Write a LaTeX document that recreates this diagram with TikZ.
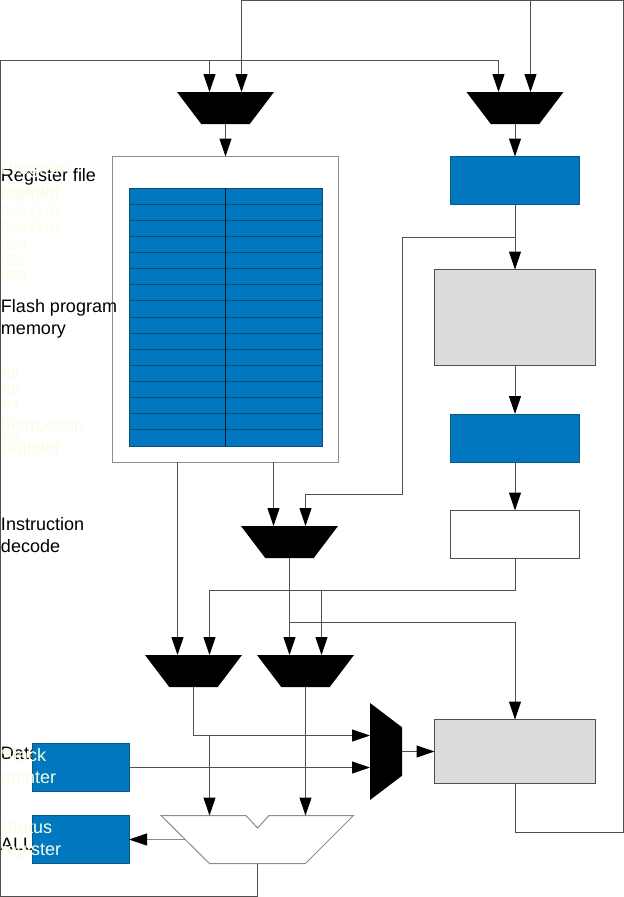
\documentclass[tikz,border=0pt]{standalone}
\usepackage{fontspec}
\setmainfont{Liberation Sans}
\usetikzlibrary{shapes.geometric,arrows.meta}
\definecolor{chipblue}{HTML}{0077BE}
\definecolor{rowline}{HTML}{0F4C72}
\definecolor{unitgray}{HTML}{DCDCDC}
\definecolor{wire}{HTML}{505050}
\definecolor{boxline}{HTML}{8C8C8C}
\definecolor{ghost}{HTML}{F5FFE4}
\tikzset{
  x=0.75pt,y=-0.75pt,
  wirepath/.style={draw=wire,line width=0.75pt},
  arrowed/.style={wirepath,-{Triangle[length=13.5pt,width=9pt,color=black]}},
  mux/.style={trapezium,trapezium stretches=true,trapezium left angle=63.43,trapezium right angle=63.43,shape border rotate=180,fill=black,draw=none,inner sep=0.5pt,outer sep=0pt,minimum width=72.75pt,minimum height=24pt},
  muxside/.style={trapezium,trapezium stretches=true,trapezium left angle=63.43,trapezium right angle=63.43,shape border rotate=270,fill=black,draw=none,inner sep=0.5pt,outer sep=0pt,minimum width=72.75pt,minimum height=24pt},
  blk/.style={rectangle,anchor=north west,inner sep=0pt,outer sep=0pt},
  bluebox/.style={blk,fill=chipblue,draw=rowline!70!chipblue,line width=0.75pt},
  graybox/.style={blk,fill=unitgray,draw=wire,line width=0.75pt},
  whitebox/.style={blk,fill=white,draw=boxline,line width=0.75pt},
  blacklabel/.style={anchor=west,inner sep=0pt,outer sep=0pt,align=left,text=black,font=\fontsize{13.5pt}{16.5pt}\selectfont},
  ghostlabel/.style={anchor=west,inner sep=0pt,outer sep=0pt,align=left,text=ghost,font=\fontsize{13.5pt}{16.5pt}\selectfont},
  ghostsmall/.style={anchor=west,inner sep=0pt,outer sep=0pt,text=ghost,font=\fontsize{10.5pt}{12pt}\selectfont},
}
\begin{document}
\begin{tikzpicture}
\useasboundingbox (0,0) rectangle (624,897);
% register file frame
\node[whitebox,minimum width=169.5pt,minimum height=229.5pt] (regfile) at (112.5,156.5) {};
% black labels (lie under the blue boxes)
\node[blacklabel] (lblreg) at (1,176.5) {Register file};
\node[blacklabel] (lblflash) at (1,318.5) {Flash program\\memory};
\node[blacklabel] (lbldec) at (1,535) {Instruction\\decode};
\node[blacklabel] (lbldata) at (1,753.5) {Data};
\node[blacklabel] (lblalu) at (1,844.5) {ALU};
% register table
\node[blk,fill=chipblue,draw=rowline,line width=0.75pt,minimum width=144.75pt,minimum height=193.5pt] (regtable) at (129,188) {};
\foreach \r in {1,...,15}{
  \draw[rowline,line width=0.75pt] (129,188+\r*16.125) -- (322,188+\r*16.125);
}
\draw[black!80!chipblue,line width=0.75pt] (225.5,188) -- (225.5,446);
% blocks
\node[bluebox,minimum width=96.75pt,minimum height=36pt] (pcbox) at (450.5,156.5) {};
\node[graybox,minimum width=120.75pt,minimum height=72pt] (flash) at (434.5,269.5) {};
\node[bluebox,minimum width=96.75pt,minimum height=36pt] (irbox) at (450.5,414) {};
\node[whitebox,draw=wire,minimum width=96.75pt,minimum height=36pt] (decbox) at (450.5,510.5) {};
\node[graybox,minimum width=120.75pt,minimum height=48pt] (data) at (434.5,719.5) {};
\node[bluebox,minimum width=72.75pt,minimum height=36pt] (sp) at (32,743.5) {};
\node[bluebox,minimum width=72.75pt,minimum height=36pt] (sr) at (32,815.5) {};
% multiplexers
\node[mux] (m1) at (225.5,108) {};
\node[mux] (m2) at (515,108) {};
\node[mux] (m3) at (289.5,542) {};
\node[mux] (m4) at (193.5,671) {};
\node[mux] (m5) at (305.5,671) {};
\node[muxside] (m6) at (386,751.5) {};
% ALU
\draw[draw=boxline,fill=white,line width=0.75pt] (161,815.5) -- (246,815.5) -- (257.5,828) -- (269,815.5) -- (353.5,815.5) -- (305.5,863.5) -- (209.5,863.5) -- cycle;
\coordinate (alubot) at (257.5,863.5);
\coordinate (aluleft) at (185,839.5);
\coordinate (alua) at (209.5,815.5);
\coordinate (alub) at (305.5,815.5);
% ports
\coordinate (m1a) at (209.5,92);
\coordinate (m1b) at (241.5,92);
\coordinate (m2a) at (498.5,92);
\coordinate (m2b) at (530.5,92);
\coordinate (m3a) at (273.5,526);
\coordinate (m3b) at (305.5,526);
\coordinate (m4a) at (177.5,655);
\coordinate (m4b) at (209.5,655);
\coordinate (m5a) at (289.5,655);
\coordinate (m5b) at (321.5,655);
\coordinate (m6a) at (370,735.5);
\coordinate (m6b) at (370,767.5);
% top feedback
\draw[arrowed] (data.south) -- (515,832.5) -- (623.5,832.5) -- (623.5,0.5) -- (241.5,0.5) -- (m1b);
\draw[arrowed] (530.5,0.5) -- (m2b);
\draw[arrowed] (alubot) -- (257.5,896.5) -- (0.5,896.5) -- (0.5,60.5) -- (498.5,60.5) -- (m2a);
\draw[arrowed] (209.5,60.5) -- (m1a);
\draw[arrowed] (m1.south) -- (regfile.north);
\draw[arrowed] (m2.south) -- (pcbox.north);
\draw[arrowed] (pcbox.south) -- (flash.north);
\draw[arrowed] (515,237.5) -- (402.5,237.5) -- (402.5,494.5) -- (305.5,494.5) -- (m3b);
\draw[arrowed] (flash.south) -- (irbox.north);
\draw[arrowed] (irbox.south) -- (decbox.north);
\draw[arrowed] (decbox.south) -- (515,590.5) -- (209.5,590.5) -- (m4b);
\draw[arrowed] (321.5,590.5) -- (m5b);
\draw[arrowed] (m3.south) -- (m5a);
\draw[arrowed] (289.5,622.5) -- (515,622.5) -- (data.north);
\draw[arrowed] (177.5,462) -- (m4a);
\draw[arrowed] (273.5,462) -- (m3a);
\draw[arrowed] (m4.south) -- (193.5,735.5) -- (m6a);
\draw[arrowed] (209.5,735.5) -- (alua);
\draw[arrowed] (m5.south) -- (alub);
\draw[arrowed] (sp.east) -- (m6b);
\draw[arrowed] (m6.east) -- (data.west);
\draw[arrowed,draw=boxline] (aluleft) -- (sr.east);
% pale labels
\node[ghostlabel] (lblpc) at (1,179) {Program\\counter};
\node[ghostsmall] (r30) at (1,196.5) {R30 (ZH)};
\node[ghostsmall] (r28) at (1,212.5) {R28 (YH)};
\node[ghostsmall] (r26) at (1,228.5) {R26 (XH)};
\node[ghostsmall] (r24) at (1,244.5) {R24};
\node[ghostsmall] (r22) at (1,260.5) {R22};
\node[ghostsmall] (r20) at (1,277) {R20};
\node[ghostsmall] (r8) at (1,373.5) {R8};
\node[ghostsmall] (r6) at (1,389.5) {R6};
\node[ghostsmall] (r4) at (1,405.5) {R4};
\node[ghostsmall] (r2) at (1,421.5) {R2};
\node[ghostsmall] (r0) at (1,437.5) {R0};
\node[ghostlabel] (lblir) at (1,438) {Instruction\\register};
\node[ghostlabel] (lblsp) at (1,767.5) {Stack\\pointer};
\node[ghostlabel] (lblsr) at (1,840) {Status\\register};
\end{tikzpicture}
\end{document}
